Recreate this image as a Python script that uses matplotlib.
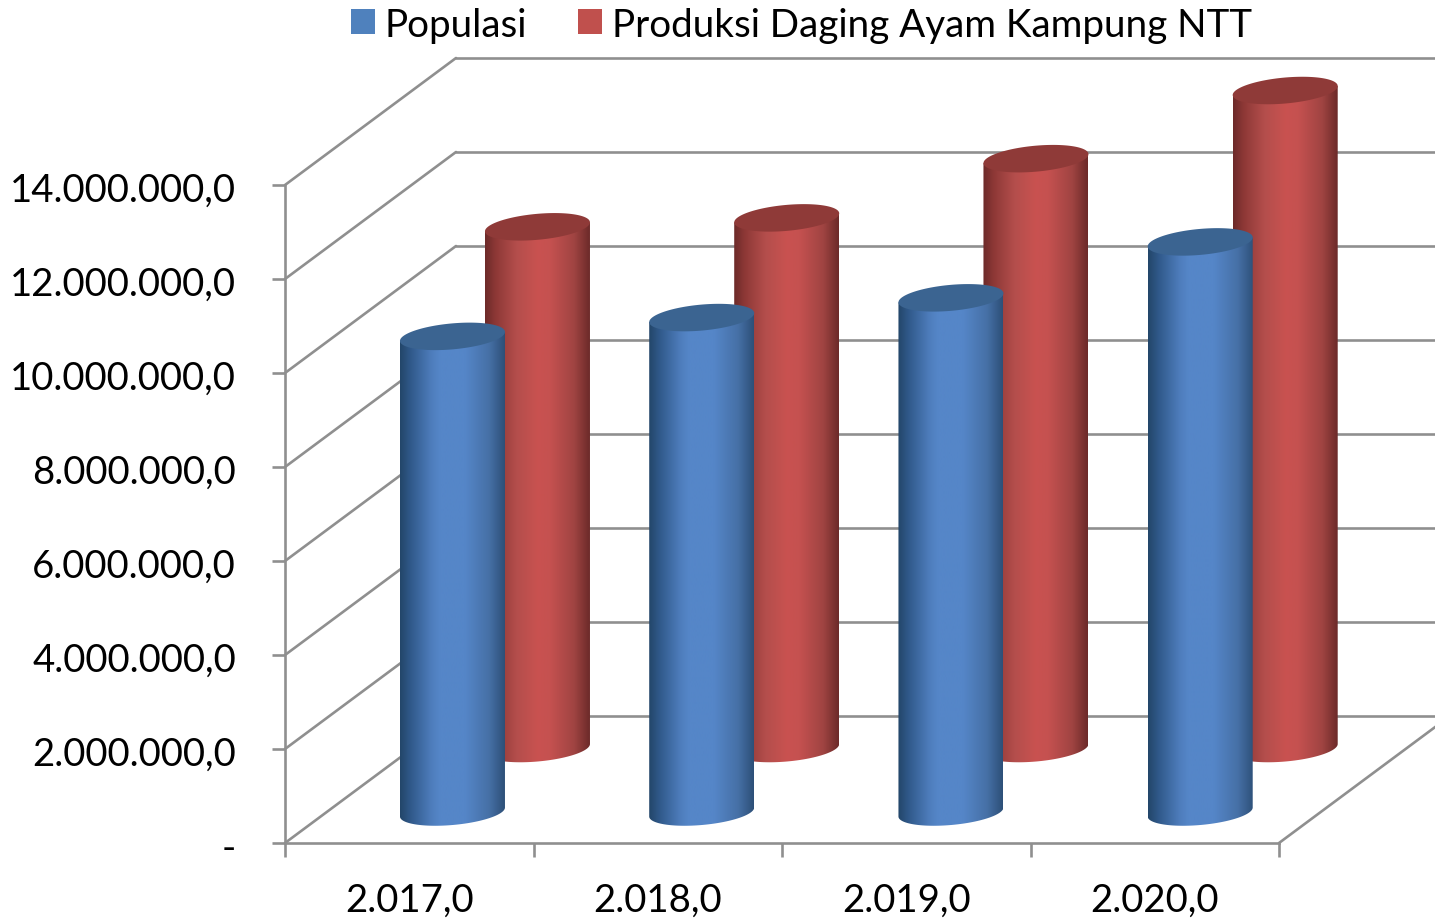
import numpy as np
import matplotlib
matplotlib.use("Agg")
import matplotlib.pyplot as plt
from matplotlib.colors import LinearSegmentedColormap
from matplotlib.patches import Patch, Polygon
from matplotlib.transforms import ScaledTranslation

years = ["2.017,0", "2.018,0", "2.019,0", "2.020,0"]
populasi = [10120000, 10520000, 10940000, 12130000]
produksi = [11100000, 11290000, 12550000, 14000000]
y_ticks = [0, 2000000, 4000000, 6000000, 8000000, 10000000, 12000000, 14000000]
y_labels = ["-", "2.000.000,0", "4.000.000,0", "6.000.000,0", "8.000.000,0",
            "10.000.000,0", "12.000.000,0", "14.000.000,0"]

W, H = 1435, 920
GREY = "#8f8f8f"
plt.rcParams["font.family"] = ["Lato", "DejaVu Sans"]

fig = plt.figure(figsize=(W / 100, H / 100), dpi=100, facecolor="white")
ax = fig.add_axes([285 / W, 1 - 844 / H, (1279 - 285) / W, (843 - 185) / H])
ax.patch.set_visible(False)
ax.set_xlim(0, 4)
ax.set_ylim(0, 14000000)
PX_X = 4 / (1279 - 285)          # data units per pixel
PX_Y = 14000000 / (843 - 185)
DEPTH_X, DEPTH_Y = 171 * PX_X, 127 * PX_Y


def project(x, v, d):
    return x + d * DEPTH_X, v + d * DEPTH_Y


def line(p, q):
    ax.plot([p[0], q[0]], [p[1], q[1]], color=GREY, lw=1.9, clip_on=False,
            zorder=1, solid_capstyle="round")


for v in y_ticks:
    line(project(0, v, 0), project(0, v, 1))
    line(project(0, v, 1), project(4, v, 1))
line(project(4, 0, 0), project(4, 0, 1))

for s in ("top", "right"):
    ax.spines[s].set_visible(False)
for s in ("left", "bottom"):
    ax.spines[s].set_color(GREY)
    ax.spines[s].set_linewidth(1.9)
    ax.spines[s].set_zorder(1)

ax.set_yticks(y_ticks, y_labels)
ax.tick_params(axis="y", length=9.4, width=1.9, color=GREY, pad=26, labelsize=27.6, labelcolor="black")
ax.set_xticks([0, 1, 2, 3, 4], [""] * 5)
ax.tick_params(axis="x", which="major", length=10, width=1.9, color=GREY)
ax.set_xticks([0.5, 1.5, 2.5, 3.5], years, minor=True)
ax.tick_params(axis="x", which="minor", length=0, pad=28, labelsize=27.6, labelcolor="black")
nudge = ScaledTranslation(0, -1.5 / 100, fig.dpi_scale_trans)
for lab in ax.get_yticklabels():
    lab.set_transform(lab.get_transform() + nudge)

BLUE = LinearSegmentedColormap.from_list("b", [(0, "#234669"), (0.1, "#30598a"), (0.3, "#4e7dbc"), (0.38, "#5586c8"),
                                               (0.62, "#5586c8"), (0.85, "#4670a6"), (1, "#2d5078")])
RED = LinearSegmentedColormap.from_list("r", [(0, "#6c2a29"), (0.1, "#8d3836"), (0.3, "#b44e4c"), (0.5, "#c95250"),
                                              (0.62, "#c55150"), (0.85, "#a04442"), (1, "#6c2a29")])
A = np.array([52.5 * PX_X, 4.5 * PX_Y])
B = np.array([0.0, 13 * PX_Y])
TH = np.linspace(0, np.pi, 80)
GRAD = np.linspace(0, 1, 256)[None, :]


def cylinder(x, value, depth, cmap, top_color, z):
    b = np.array(project(x, 0, depth))
    t = np.array(project(x, value, depth))
    lower = np.column_stack([b[0] + A[0] * np.cos(TH), b[1] + A[1] * np.cos(TH) - B[1] * np.sin(TH)])
    body = np.vstack([lower, t - A, t + A])
    clip = Polygon(body, closed=True, transform=ax.transData, fc="none", ec="none", clip_on=False)
    ax.add_patch(clip)
    im = ax.imshow(GRAD, cmap=cmap, aspect="auto", interpolation="bilinear", zorder=z,
                   extent=[t[0] - A[0], t[0] + A[0], b[1] - 2 * B[1], t[1] + 2 * B[1]])
    im.set_clip_box(fig.bbox)
    im.set_clip_path(clip)
    full = np.linspace(0, 2 * np.pi, 160)
    top = np.column_stack([t[0] + A[0] * np.cos(full), t[1] + A[1] * np.cos(full) + B[1] * np.sin(full)])
    ax.add_patch(Polygon(top, closed=True, fc=top_color, ec="none", zorder=z + 0.1, clip_on=False))


SPACING = 1.003
for i, v in enumerate(produksi):
    cylinder(i * SPACING + 0.504, v, 0.744, RED, "#8f3a38", 2 + i * 0.01)
for i, v in enumerate(populasi):
    cylinder(i * SPACING + 0.506, v, 0.244, BLUE, "#3b6491", 3 + i * 0.01)
ax.set_xlim(0, 4)
ax.set_ylim(0, 14000000)

handles = [Patch(fc="#4f81bd", ec="none"), Patch(fc="#c0504d", ec="none")]
fig.legend(handles, ["Populasi", "Produksi Daging Ayam Kampung NTT"], ncol=2, frameon=False,
           loc="upper left", bbox_to_anchor=(351 / W, 1 - 7.5 / H), bbox_transform=fig.transFigure,
           borderaxespad=0, borderpad=0, fontsize=27.8, handlelength=0.62, handleheight=0.62,
           handletextpad=0.25, columnspacing=1.33)

fig.savefig("out.png", dpi=100, facecolor="white")
